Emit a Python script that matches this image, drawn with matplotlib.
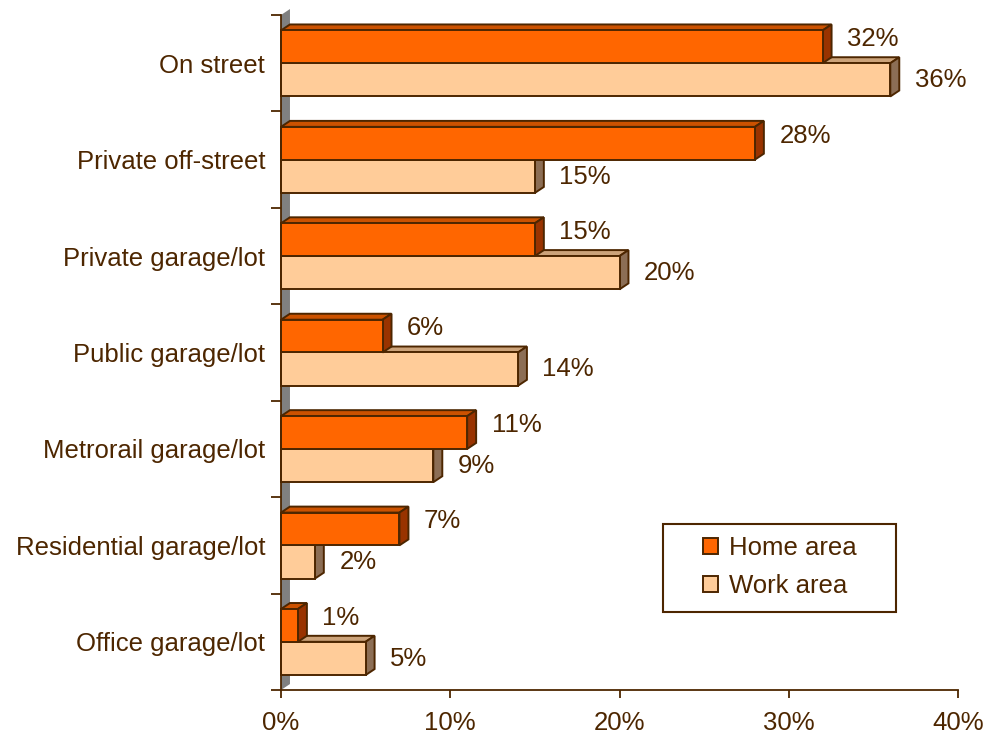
import matplotlib.pyplot as plt
from matplotlib.patches import Polygon, Rectangle

# data (percent of respondents)
categories = ["On street", "Private off-street", "Private garage/lot",
              "Public garage/lot", "Metrorail garage/lot",
              "Residential garage/lot", "Office garage/lot"]
home_area = [32, 28, 15, 6, 11, 7, 1]
work_area = [36, 15, 20, 14, 9, 2, 5]
x_ticks = [0, 10, 20, 30, 40]

brown = "#4D2600"
plt.rcParams["font.family"] = ["Liberation Sans", "DejaVu Sans"]
plt.rcParams["font.size"] = 18.5
plt.rcParams["text.color"] = brown

fig = plt.figure(figsize=(9.85, 7.33), dpi=100)
ax = fig.add_axes([281 / 985, 1 - 690 / 733, 677 / 985, 675 / 733])
ax.set_xlim(0, 40)
ax.set_ylim(7, 0)

# 3D depth of the Excel-style bars (data units)
dx, dy = 0.53, 0.062

# grey back wall
ax.add_patch(Polygon([(0, 7), (dx, 7 - dy), (dx, -dy), (0, 0)], closed=True,
                     facecolor="#808080", edgecolor="none", zorder=1, clip_on=False))


def bar3d(y0, h, v, front, top, side):
    kw = dict(closed=True, edgecolor=brown, linewidth=1.4, zorder=3,
              joinstyle="miter", clip_on=False)
    ax.add_patch(Polygon([(0, y0), (v, y0), (v + dx, y0 - dy), (dx, y0 - dy)],
                         facecolor=top, **kw))
    ax.add_patch(Polygon([(v, y0), (v + dx, y0 - dy), (v + dx, y0 + h - dy), (v, y0 + h)],
                         facecolor=side, **kw))
    ax.add_patch(Polygon([(0, y0), (v, y0), (v, y0 + h), (0, y0 + h)],
                         facecolor=front, **kw))


for i, (h_val, w_val) in enumerate(zip(home_area, work_area)):
    bar3d(i + 0.50, 0.345, w_val, "#FFCC99", "#CCA37A", "#8C6E55")
    bar3d(i + 0.16, 0.34, h_val, "#FF6600", "#CC5200", "#993300")
    ax.text(h_val + 1.45, i + 0.25, f"{h_val}%", va="center", ha="left")
    ax.text(w_val + 1.45, i + 0.675, f"{w_val}%", va="center", ha="left")

# axes styling
for s in ["top", "right"]:
    ax.spines[s].set_visible(False)
for s in ["left", "bottom"]:
    ax.spines[s].set_color(brown)
    ax.spines[s].set_linewidth(1.3)
    ax.spines[s].set_zorder(4)

ax.set_yticks(range(8))
ax.set_yticklabels([])
ax.set_yticks([i + 0.5 for i in range(len(categories))], minor=True)
ax.set_yticklabels(categories, minor=True)
ax.tick_params(axis="y", which="major", length=7.5, width=1.3, color=brown)
ax.tick_params(axis="y", which="minor", length=0, pad=11.5, labelcolor=brown)

ax.set_xticks(x_ticks)
ax.set_xticklabels([f"{t}%" for t in x_ticks])
ax.tick_params(axis="x", length=6, width=1.3, color=brown, pad=9, labelcolor=brown)

# legend with a square frame
fig.patches.append(Rectangle((663 / 985, 1 - 612 / 733), 233 / 985, 88 / 733,
                             transform=fig.transFigure, facecolor="white",
                             edgecolor=brown, linewidth=1.5, zorder=5))
handles = [Rectangle((0, 0), 1, 1, facecolor="#FF6600", edgecolor=brown, linewidth=1.4),
           Rectangle((0, 0), 1, 1, facecolor="#FFCC99", edgecolor=brown, linewidth=1.4)]
leg = fig.legend(handles, ["Home area", "Work area"], loc="center",
                 bbox_to_anchor=(779.5 / 985, 1 - 567 / 733), frameon=False,
                 handlelength=0.6, handleheight=0.6, handletextpad=0.4,
                 labelspacing=0.55, borderpad=0)
leg.set_zorder(6)

fig.savefig("out.png", dpi=100)
